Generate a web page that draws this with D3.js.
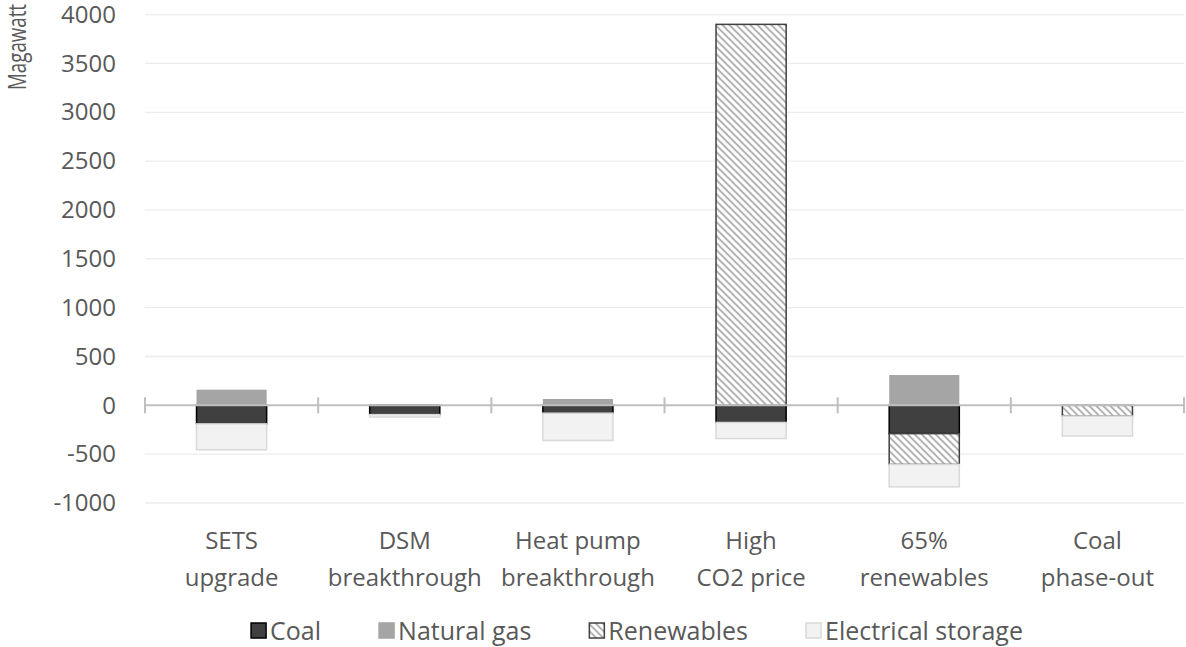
<!DOCTYPE html>
<html>
<head>
  <meta charset="utf-8">
  <title>Magawatt by scenario</title>
  <script src="https://d3js.org/d3.v7.min.js"></script>
  <style>
    body { margin: 0; background: #fff; }
    text { font-family: "Open Sans", sans-serif; fill: #595959; }
  </style>
</head>
<body>
<div id="chart"></div>
<script>
// data
var categories = ["SETS upgrade", "DSM breakthrough", "Heat pump breakthrough", "High CO2 price", "65% renewables", "Coal phase-out"];
var categoryLines = [["SETS", "upgrade"], ["DSM", "breakthrough"], ["Heat pump", "breakthrough"], ["High", "CO2 price"], ["65%", "renewables"], ["Coal", "phase-out"]];
var seriesNames = ["Coal", "Natural gas", "Renewables", "Electrical storage"];
var coal       = [-190, -95, -80, -175, -290, 0];
var naturalGas = [160, 0, 65, 0, 310, 0];
var renewables = [0, 0, 0, 3900, -315, -110];
var storage    = [-265, -25, -280, -165, -230, -205];
var yTicks = [-1000, -500, 0, 500, 1000, 1500, 2000, 2500, 3000, 3500, 4000];

var W = 1186, H = 647;
var margin = {top: 14.6, right: 2, bottom: 144, left: 145};
var width = W - margin.left - margin.right,
    height = H - margin.top - margin.bottom;

var svg = d3.select("#chart").append("svg")
    .attr("width", W).attr("height", H);

// hatch pattern for renewables
var defs = svg.append("defs");
var pat = defs.append("pattern")
    .attr("id", "hatch")
    .attr("patternUnits", "userSpaceOnUse")
    .attr("width", 7).attr("height", 7);
pat.append("rect").attr("width", 7).attr("height", 7).attr("fill", "#fff");
pat.append("path")
    .attr("d", "M0,0L7,7M-1,6L1,8M6,-1L8,1")
    .attr("stroke", "#a6a6a6").attr("stroke-width", 1.6);

var styles = {
  "Coal": {fill: "#404040", stroke: "#000000"},
  "Natural gas": {fill: "#a5a5a5", stroke: "none"},
  "Renewables": {fill: "url(#hatch)", stroke: "#404040"},
  "Electrical storage": {fill: "#f2f2f2", stroke: "#d9d9d9"}
};

var g = svg.append("g")
    .attr("transform", "translate(" + margin.left + "," + margin.top + ")");

var y = d3.scaleLinear().domain([-1000, 4000]).range([height, 0]);
var x = d3.scaleBand().domain(categories).range([0, width])
    .paddingInner(0.595).paddingOuter(0.2975);

// gridlines
g.append("g")
  .selectAll("line")
  .data(yTicks.filter(function(d) { return d !== 0; }))
  .enter().append("line")
    .attr("x1", 0).attr("x2", width)
    .attr("y1", function(d) { return y(d); })
    .attr("y2", function(d) { return y(d); })
    .attr("stroke", "#ececec").attr("stroke-width", 1.3);

// y axis labels (plain hyphen for negatives)
var yAxis = g.append("g")
    .call(d3.axisLeft(y).tickValues(yTicks)
      .tickFormat(function(d) { return String(d); })
      .tickSize(0).tickPadding(29));
yAxis.select(".domain").remove();
yAxis.selectAll("text")
    .style("font-family", "'Open Sans', sans-serif")
    .style("font-size", "24px")
    .attr("fill", "#595959");

// stacked bars
var table = categories.map(function(c, i) {
  return {cat: c, "Coal": coal[i], "Natural gas": naturalGas[i],
          "Renewables": renewables[i], "Electrical storage": storage[i]};
});
var stacked = d3.stack().keys(seriesNames).offset(d3.stackOffsetDiverging)(table);

g.append("g").selectAll("g")
  .data(stacked)
  .enter().append("g")
    .attr("fill", function(s) { return styles[s.key].fill; })
    .attr("stroke", function(s) { return styles[s.key].stroke; })
    .attr("stroke-width", 1.5)
  .selectAll("rect")
  .data(function(s) { return s.filter(function(d) { return d[0] !== d[1]; }); })
  .enter().append("rect")
    .attr("x", function(d) { return x(d.data.cat); })
    .attr("width", x.bandwidth())
    .attr("y", function(d) { return y(Math.max(d[0], d[1])); })
    .attr("height", function(d) { return Math.abs(y(d[0]) - y(d[1])); });

// zero axis with cross ticks at category boundaries
var bounds = categories.map(function(c) { return x(c) - x.step() * x.paddingInner() / 2; });
bounds.push(width);
var zeroAxis = g.append("g").attr("transform", "translate(0," + y(0) + ")");
zeroAxis.append("line")
    .attr("x1", 0).attr("x2", width)
    .attr("stroke", "#bfbfbf").attr("stroke-width", 2);
zeroAxis.selectAll(".tk").data(bounds).enter().append("line")
    .attr("x1", function(d) { return d; }).attr("x2", function(d) { return d; })
    .attr("y1", -8).attr("y2", 8)
    .attr("stroke", "#bfbfbf").attr("stroke-width", 2);

// category labels
var catLabels = g.append("g").selectAll("text")
  .data(categories)
  .enter().append("text")
    .attr("x", function(d) { return x(d) + x.bandwidth() / 2; })
    .attr("y", height + 46.5)
    .attr("text-anchor", "middle")
    .style("font-size", "24px");
catLabels.selectAll("tspan")
  .data(function(d, i) { return categoryLines[i]; })
  .enter().append("tspan")
    .attr("x", function() { return x(this.parentNode.__data__) + x.bandwidth() / 2; })
    .attr("dy", function(d, i) { return i === 0 ? 0 : 37; })
    .text(function(d) { return d; });

// y axis title (condensed to fit like the original)
svg.append("text")
    .attr("transform", "translate(26,47) rotate(-90)")
    .attr("text-anchor", "middle")
    .attr("textLength", 86)
    .attr("lengthAdjust", "spacingAndGlyphs")
    .style("font-size", "26px")
    .text("Magawatt");

// legend
var legend = svg.append("g").attr("transform", "translate(0,631)");
var items = legend.selectAll("g").data(seriesNames).enter().append("g");
items.append("rect")
    .attr("width", 15).attr("height", 15).attr("y", -8)
    .attr("fill", function(d) { return styles[d].fill; })
    .attr("stroke", function(d) { return d === "Natural gas" ? "#a5a5a5" : styles[d].stroke; })
    .attr("stroke-width", 1.5);
items.append("text")
    .attr("x", 19).attr("dy", "0.35em")
    .style("font-size", "25px")
    .text(function(d) { return d; });
var xpos = 0, gap = 58;
items.each(function() {
  var w = this.getBBox().width;
  this.__x = xpos;
  xpos += w + gap;
});
var total = xpos - gap, start = 637 - total / 2;
items.attr("transform", function() { return "translate(" + (start + this.__x) + ",0)"; });
</script>
</body>
</html>
